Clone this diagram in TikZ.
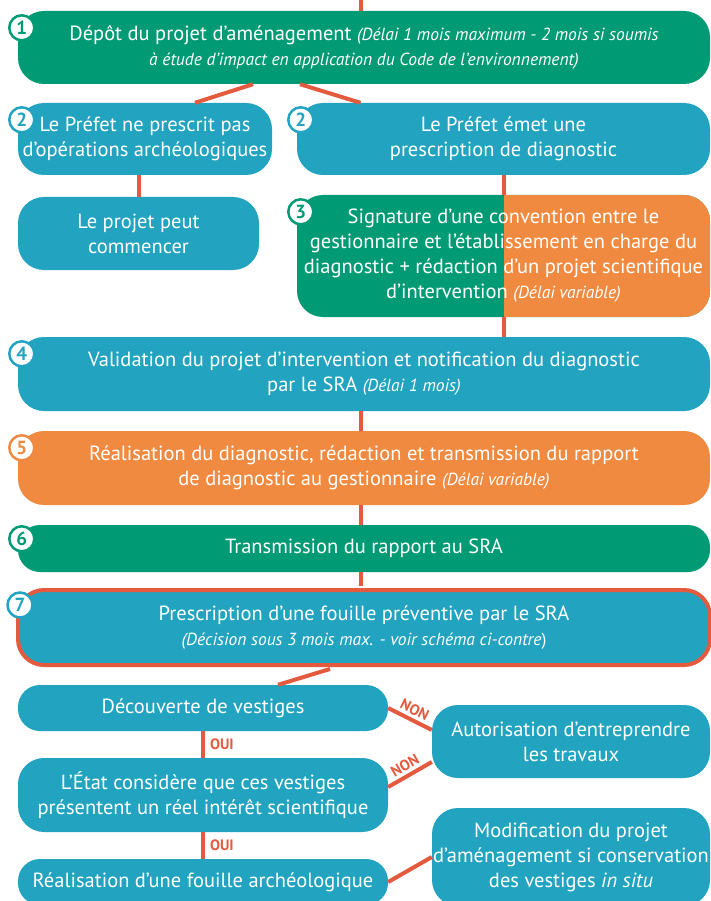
\documentclass[tikz,border=0pt]{standalone}
\usepackage{fontspec}
\setmainfont{PT Sans}
\usetikzlibrary{positioning, calc}
\definecolor{cvert}{HTML}{009A74}
\definecolor{cbleu}{HTML}{22A3BF}
\definecolor{corange}{HTML}{F08A40}
\definecolor{crouge}{HTML}{E35A3F}
\newcommand{\delai}[1]{{\fontsize{17.5}{25}\selectfont\itshape #1}}

\begin{document}
\begin{tikzpicture}[x=1pt, y=-1pt,
  etape/.style={rounded corners=26pt, minimum height=73pt, align=center, text=white,
                inner sep=0pt, font=\fontsize{20.5}{25}\selectfont},
  num/.style={circle, draw=#1, line width=2.5pt, fill=white, text=#1, minimum size=25pt,
              inner sep=0pt, font=\fontsize{19}{19}\selectfont\bfseries},
  lien/.style={crouge, line width=4pt},
  rep/.style={text=crouge, font=\fontsize{15}{15}\selectfont\bfseries, inner sep=1pt}
]
  \useasboundingbox (0,0) rectangle (711,901);

  % Etapes
  \node[etape, fill=cvert, minimum width=692pt] (depot) at (364,47.5)
    {Dépôt du projet d’aménagement \delai{(Délai 1 mois maximum - 2 mois si soumis}\\
     \delai{à étude d’impact en application du Code de l’environnement)}};
  \node[etape, fill=cbleu, minimum width=254pt, minimum height=72pt] (nopres) at (145,139)
    {Le Préfet ne prescrit pas\\d’opérations archéologiques};
  \node[etape, fill=cbleu, minimum width=413pt, minimum height=72pt] (pres) at (503.5,139)
    {Le Préfet émet une\\prescription de diagnostic};
  \node[etape, fill=cbleu, minimum width=241pt] (commence) at (138.5,233.5)
    {Le projet peut\\commencer};
  \node[etape, fill=cvert, minimum width=413pt, minimum height=122pt,
        path picture={\fill[corange, sharp corners] (path picture bounding box.north) rectangle (path picture bounding box.south east);}]
    (conv) at (503.5,256)
    {Signature d’une convention entre le\\gestionnaire et l’établissement en charge du\\
     diagnostic + rédaction d’un projet scientifique\\d’intervention \delai{(Délai variable)}};
  \node[etape, fill=cbleu, minimum width=692pt, minimum height=74pt] (valid) at (364,374)
    {Validation du projet d’intervention et notification du diagnostic\\par le SRA \delai{(Délai 1 mois)}};
  \node[etape, fill=corange, minimum width=692pt, minimum height=74pt] (realdiag) at (364,468)
    {Réalisation du diagnostic, rédaction et transmission du rapport\\de diagnostic au gestionnaire \delai{(Délai variable)}};
  \node[etape, fill=cvert, minimum width=692pt, minimum height=47pt, rounded corners=22pt] (transm) at (364,548.5)
    {Transmission du rapport au SRA};
  \node[etape, fill=cbleu, draw=crouge, line width=4pt, minimum width=692pt, minimum height=75pt] (fouille) at (364,627.5)
    {Prescription d’une fouille préventive par le SRA\\\delai{(Décision sous 3 mois max. - voir schéma ci-contre}\delai{\upshape)}};

  % Suite de la prescription
  \node[etape, fill=cbleu, minimum width=370pt, minimum height=46pt, rounded corners=22pt] (decouv) at (203,708)
    {Découverte de vestiges};
  \node[etape, fill=cbleu, minimum width=370pt, minimum height=74pt] (etat) at (203,795)
    {L’État considère que ces vestiges\\présentent un réel intérêt scientifique};
  \node[etape, fill=cbleu, minimum width=370pt, minimum height=46pt, rounded corners=22pt] (realf) at (203,882)
    {Réalisation d’une fouille archéologique};
  \node[etape, fill=cbleu, minimum width=278pt] (autor) at (571,741.5)
    {Autorisation d’entreprendre\\les travaux};
  \node[etape, fill=cbleu, minimum width=278pt, minimum height=98pt] (modif) at (571,857)
    {Modification du projet\\d’aménagement si conservation\\des vestiges \textit{in situ}};

  % Numeros
  \node[num=cvert] (n1) at ([shift={(4,17)}]depot.north west) {1};
  \node[num=cbleu] (n2a) at ([shift={(4,17)}]nopres.north west) {2};
  \node[num=cbleu] (n2b) at ([shift={(4,17)}]pres.north west) {2};
  \node[num=cvert] (n3) at ([shift={(4,17)}]conv.north west) {3};
  \node[num=cbleu] (n4) at ([shift={(4,17)}]valid.north west) {4};
  \node[num=corange] (n5) at ([shift={(4,17)}]realdiag.north west) {5};
  \node[num=cvert] (n6) at ([shift={(4,14)}]transm.north west) {6};
  \node[num=cbleu] (n7) at ([shift={(4,17)}]fouille.north west) {7};

  % Liens
  \coordinate (haut) at (361,0);
  \draw[lien] (haut) -- (haut |- depot.north);
  \draw[lien] ([xshift=-111pt]depot.south) -- ([xshift=50pt]nopres.north);
  \draw[lien] ([xshift=-64pt]depot.south) -- ([xshift=-143pt]pres.north);
  \draw[lien] (commence.north |- nopres.south) -- (commence.north);
  \draw[lien] (pres.south) -- (conv.north);
  \draw[lien] (conv.south) -- (conv.south |- valid.north);
  \draw[lien] ([xshift=-3pt]valid.south) -- ([xshift=-3pt]realdiag.north);
  \draw[lien] ([xshift=-3pt]realdiag.south) -- ([xshift=-3pt]transm.north);
  \draw[lien] ([xshift=-3pt]transm.south) -- ([xshift=-3pt,yshift=2pt]fouille.north);
  \draw[lien] ([xshift=-34pt,yshift=-2pt]fouille.south) -- ([xshift=75pt]decouv.north);

  \draw[lien] (decouv.south) -- node[rep, right=4pt] {OUI} (etat.north);
  \draw[lien] (etat.south) -- node[rep, right=4pt] {OUI} (realf.north);
  \draw[lien] (decouv.east) -- node[rep, sloped, above=2pt] {NON} ([yshift=11.5pt]autor.west);
  \draw[lien] ([yshift=8pt]etat.east) -- node[rep, sloped, above=2pt] {NON} ([yshift=-20.5pt]autor.west);
  \draw[lien] (realf.east) -- (modif.west);

\end{tikzpicture}
\end{document}
